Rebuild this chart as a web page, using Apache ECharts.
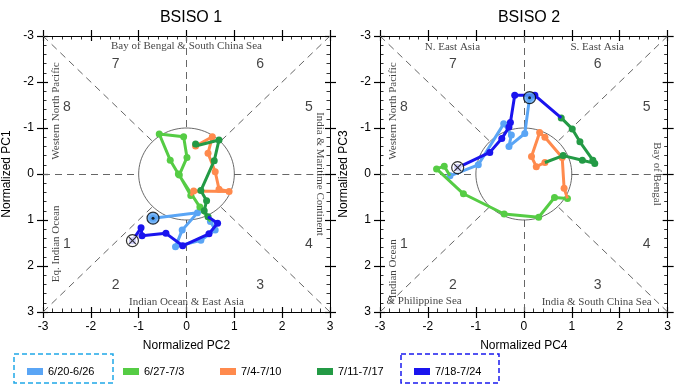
<!DOCTYPE html>
<html><head><meta charset="utf-8">
<script src="https://cdn.jsdelivr.net/npm/echarts@6/dist/echarts.min.js"></script>
<style>html,body{margin:0;padding:0;background:#fff}#c{width:674px;height:387px}</style>
</head><body><div id="c"></div>
<script>
const weeks = ['6/20-6/26','6/27-7/3','7/4-7/10','7/11-7/17','7/18-7/24'];
const colors = ['#5aa5f5','#55cc44','#ff8a4d','#239a45','#1a14ee'];
// BSISO 1: [PC2, PC1]
const b1_w1 = [[-0.70,0.96],[0.23,0.84],[-0.09,1.22],[-0.23,1.58],[0.30,1.44],[0.60,1.22],[0.50,1.03]];
const b1_w2 = [[0.28,0.72],[-0.17,0.00],[-0.34,-0.30],[-0.57,-0.87],[-0.06,-0.81],[0.01,-0.36],[-0.15,0.02],[0.09,0.47]];
const b1_w3 = [[0.15,0.37],[0.89,0.38],[0.68,0.33],[0.60,-0.05],[0.45,-0.45],[0.54,-0.81],[0.19,-0.61]];
const b1_w4 = [[0.19,-0.65],[0.68,-0.74],[0.58,-0.29],[0.30,0.36],[0.42,0.58],[0.37,0.80],[0.45,0.93]];
const b1_w5 = [[0.65,1.07],[0.47,1.30],[-0.08,1.56],[-0.43,1.29],[-0.93,1.34],[-0.95,1.17],[-1.13,1.45]];
// BSISO 2: [PC4, PC3]
const b2_w1 = [[0.12,-1.66],[0.02,-0.88],[-0.31,-0.60],[-0.26,-0.85],[-0.42,-1.09],[-0.95,-0.20],[-1.54,0.04]];
const b2_w2 = [[-1.66,-0.17],[-1.82,-0.11],[-1.26,0.43],[-0.41,0.87],[0.31,0.94],[0.64,0.51],[0.91,0.53]];
const b2_w3 = [[0.84,0.31],[0.80,-0.36],[0.44,-0.80],[0.33,-0.90],[0.16,-0.38],[0.26,-0.16],[0.44,-0.25]];
const b2_w4 = [[0.82,-0.40],[1.22,-0.30],[1.48,-0.23],[1.44,-0.30],[1.17,-0.70],[1.01,-0.98],[0.78,-1.22]];
const b2_w5 = [[0.23,-1.71],[-0.19,-1.71],[-0.28,-1.12],[-0.31,-1.02],[-0.46,-0.77],[-0.71,-0.47],[-1.38,-0.14]];
const titles = ['BSISO 1','BSISO 2'];
const xNames = ['Normalized PC2','Normalized PC4'];
const yNames = ['Normalized PC1','Normalized PC3'];
const phaseLabels = ['1','2','3','4','5','6','7','8'];
const regions1 = ['Bay of Bengal & South China Sea','Indian Ocean & East Asia','Western North Pacific','Eq. Indian Ocean','India & Maritime Continent'];
const regions2 = ['N. East Asia','S. East Asia','Western North Pacific','Bay of Bengal','Indian Ocean','& Philippine Sea','India & South China Sea'];

// annotation placement (data coords) and rotation
const phasePos = [[-2.5,1.52],[-1.48,2.42],[1.54,2.42],[2.56,1.52],[2.56,-1.46],[1.54,-2.38],[-1.48,-2.38],[-2.5,-1.46]];
const reg1Pos = [[0,-2.77,0],[0,2.78,0],[-2.73,-1.37,90],[-2.73,1.52,90],[2.79,0,-90]];
const reg2Pos = [[-1.49,-2.75,0],[1.53,-2.75,0],[-2.73,-1.37,90],[2.78,0,-90],[-2.73,2.06,90],[-2.08,2.76,0],[1.52,2.78,0]];

const SANS = 'Liberation Sans, Arial, sans-serif';
const SERIF = 'Liberation Serif, Times New Roman, serif';
const grids = [{left:42,top:36,width:288,height:276},{left:380,top:36,width:288,height:276}];

const xAxes = [], yAxes = [];
grids.forEach((g,gi)=>{
  const base = {gridIndex:gi,type:'value',min:-3,max:3,interval:1,splitLine:{show:false},
    axisLine:{onZero:false,lineStyle:{color:'#000',width:1}}};
  // outward ticks + labels (bottom), inward ticks + minor (bottom), outward (top), inward (top)
  xAxes.push(Object.assign({},base,{position:'bottom',name:xNames[gi],nameLocation:'middle',nameGap:28,
    nameTextStyle:{fontFamily:SANS,fontSize:12,color:'#000'},
    axisTick:{inside:false,length:6,lineStyle:{color:'#000',width:1.2}},
    axisLabel:{fontFamily:SANS,fontSize:12,color:'#000',margin:9}}));
  xAxes.push(Object.assign({},base,{position:'bottom',axisTick:{inside:true,length:5,lineStyle:{color:'#000',width:1.2}},
    minorTick:{show:true,splitNumber:5,length:3.5,lineStyle:{color:'#000',width:0.8}},axisLabel:{show:false}}));
  xAxes.push(Object.assign({},base,{position:'top',axisTick:{inside:false,length:6,lineStyle:{color:'#000',width:1.2}},axisLabel:{show:false}}));
  xAxes.push(Object.assign({},base,{position:'top',axisTick:{inside:true,length:5,lineStyle:{color:'#000',width:1.2}},
    minorTick:{show:true,splitNumber:5,length:3.5,lineStyle:{color:'#000',width:0.8}},axisLabel:{show:false}}));
  const ybase = Object.assign({},base,{inverse:true});
  yAxes.push(Object.assign({},ybase,{position:'left',name:yNames[gi],nameLocation:'middle',nameGap:30,nameRotate:90,
    nameTextStyle:{fontFamily:SANS,fontSize:12,color:'#000'},
    axisTick:{inside:false,length:6,lineStyle:{color:'#000',width:1.2}},
    axisLabel:{fontFamily:SANS,fontSize:12,color:'#000',margin:9}}));
  yAxes.push(Object.assign({},ybase,{position:'left',axisTick:{inside:true,length:5,lineStyle:{color:'#000',width:1.2}},
    minorTick:{show:true,splitNumber:5,length:3.5,lineStyle:{color:'#000',width:0.8}},axisLabel:{show:false}}));
  yAxes.push(Object.assign({},ybase,{position:'right',axisTick:{inside:false,length:6,lineStyle:{color:'#000',width:1.2}},axisLabel:{show:false}}));
  yAxes.push(Object.assign({},ybase,{position:'right',axisTick:{inside:true,length:5,lineStyle:{color:'#000',width:1.2}},
    minorTick:{show:true,splitNumber:5,length:3.5,lineStyle:{color:'#000',width:0.8}},axisLabel:{show:false}}));
});

const series = [];
const R = Math.SQRT1_2;
function guides(gi){
  const ax = gi*4;
  const circ = [];
  for(let i=0;i<=180;i++){const a=i/180*2*Math.PI;circ.push([Math.cos(a),Math.sin(a)]);}
  series.push({type:'line',xAxisIndex:ax,yAxisIndex:ax,data:circ,symbol:'none',silent:true,z:2,
    lineStyle:{color:'#444',width:0.8},animation:false});
  const segs = [
    [[-3,-3],[-R,-R]],[[3,-3],[R,-R]],[[-3,3],[-R,R]],[[3,3],[R,R]],
    [[-3,0],[-1,0]],[[1,0],[3,0]],[[0,-3],[0,-1]],[[0,1],[0,3]]];
  series.push({type:'lines',coordinateSystem:'cartesian2d',xAxisIndex:ax,yAxisIndex:ax,silent:true,z:1,
    data:segs.map(s=>({coords:s})),lineStyle:{color:'#666',width:1,type:[7,5],opacity:1},animation:false});
}
function texts(gi, labels, pos, font, size){
  const ax = gi*4;
  labels.forEach((t,i)=>{
    series.push({type:'scatter',xAxisIndex:ax,yAxisIndex:ax,silent:true,symbolSize:0,z:3,animation:false,
      data:[{value:[pos[i][0],pos[i][1]]}],
      label:{show:true,position:'inside',formatter:t,fontFamily:font,fontSize:size,color:'#111',rotate:pos[i][2]||0,
        align:'center',verticalAlign:'middle'}});
  });
}
function traj(gi, wk){
  const ax = gi*4;
  wk.forEach((arr,i)=>{
    const data = [];
    if(i>0){ const p = wk[i-1][wk[i-1].length-1]; data.push({value:p,symbol:'none'}); }
    arr.forEach(p=>data.push({value:p}));
    series.push({name:weeks[i],type:'line',xAxisIndex:ax,yAxisIndex:ax,data:data,symbol:'circle',symbolSize:7,
      showSymbol:true,z:10+i,color:colors[i],lineStyle:{color:colors[i],width:3},itemStyle:{color:colors[i]},animation:false});
  });
  const s = wk[0][0], e = wk[4][wk[4].length-1];
  series.push({type:'scatter',xAxisIndex:ax,yAxisIndex:ax,z:20,silent:true,animation:false,data:[s],symbol:'circle',symbolSize:12,
    itemStyle:{color:colors[0],borderColor:'#000',borderWidth:1.2}});
  series.push({type:'scatter',xAxisIndex:ax,yAxisIndex:ax,z:21,silent:true,animation:false,data:[s],symbol:'circle',symbolSize:3,
    itemStyle:{color:'#000'}});
  series.push({type:'scatter',xAxisIndex:ax,yAxisIndex:ax,z:20,silent:true,animation:false,data:[e],symbol:'circle',symbolSize:12,
    itemStyle:{color:'#fff',borderColor:'#000',borderWidth:1.2}});
  series.push({type:'scatter',xAxisIndex:ax,yAxisIndex:ax,z:21,silent:true,animation:false,data:[e],symbol:'path://M0,0L10,10M10,0L0,10',symbolSize:7,
    itemStyle:{color:'none',borderColor:'#000',borderWidth:1.2}});
}
[0,1].forEach(gi=>{ guides(gi); texts(gi, phaseLabels, phasePos, SANS, 14); });
texts(0, regions1, reg1Pos, SERIF, 11);
texts(1, regions2, reg2Pos, SERIF, 11);
traj(0,[b1_w1,b1_w2,b1_w3,b1_w4,b1_w5]);
traj(1,[b2_w1,b2_w2,b2_w3,b2_w4,b2_w5]);

const legLeft = [27,123,220,317,414];
const legends = weeks.map((w,i)=>({data:[w],left:legLeft[i],top:366,padding:0,icon:'rect',itemWidth:16,itemHeight:7,
  selectedMode:false,textStyle:{fontFamily:SANS,fontSize:11,color:'#000'}}));

const chart = echarts.init(document.getElementById('c'),null,{renderer:'canvas'});
chart.setOption({
  animation:false,
  title: titles.map((t,i)=>({text:t,left:grids[i].left+grids[i].width/2,top:5,textAlign:'center',
    textStyle:{fontFamily:SANS,fontSize:16,fontWeight:'normal',color:'#000'}})),
  grid: grids,
  xAxis: xAxes, yAxis: yAxes,
  legend: legends,
  series: series,
  graphic:[
    {type:'rect',shape:{x:14,y:354,width:99,height:29},style:{fill:'none',stroke:'#1fa8e8',lineWidth:1.5,lineDash:[5,3]}},
    {type:'rect',shape:{x:401,y:354,width:98,height:29},style:{fill:'none',stroke:'#1a1aee',lineWidth:1.5,lineDash:[5,3]}}
  ]
});
</script></body></html>
